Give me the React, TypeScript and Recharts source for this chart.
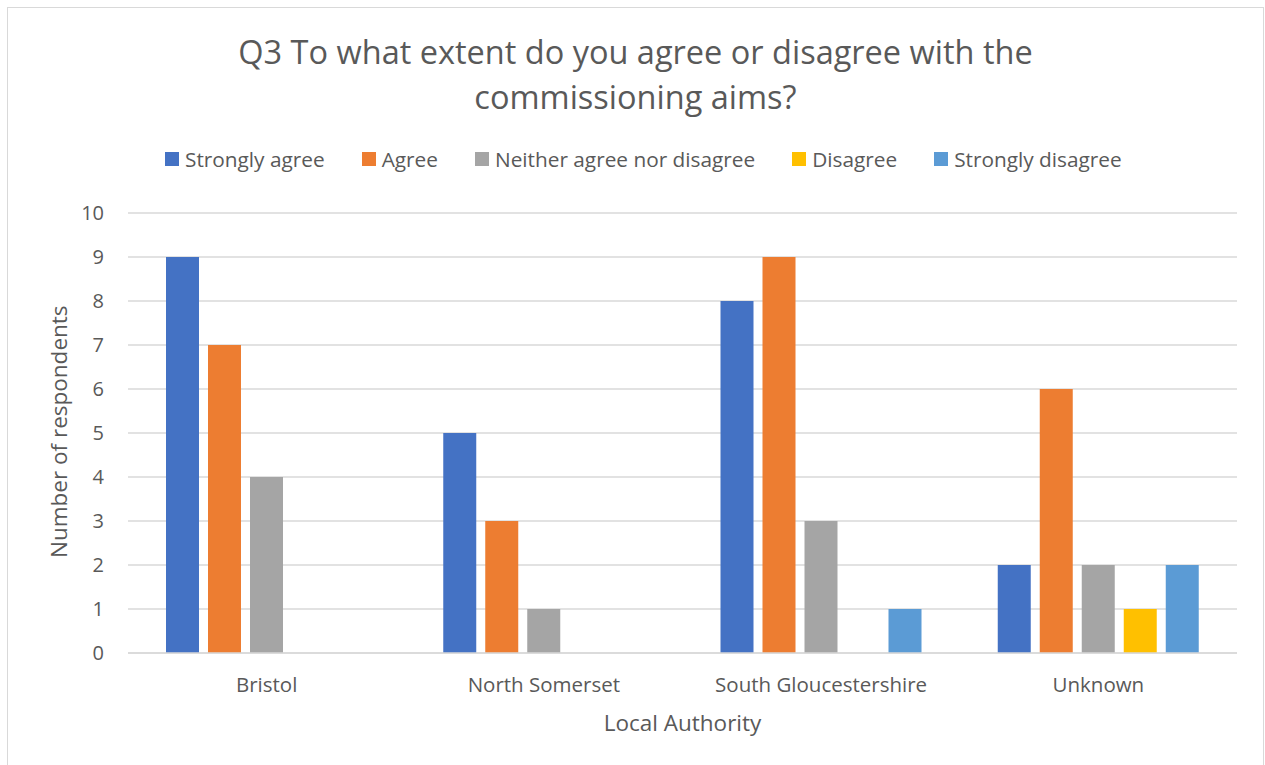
import { BarChart, Bar, XAxis, YAxis, CartesianGrid } from "recharts"

const AUTHORITIES = ["Bristol", "North Somerset", "South Gloucestershire", "Unknown"]
const STRONGLY_AGREE = [9, 5, 8, 2]
const AGREE = [7, 3, 9, 6]
const NEITHER = [4, 1, 3, 2]
const DISAGREE = [0, 0, 0, 1]
const STRONGLY_DISAGREE = [0, 0, 1, 2]
const Y_TICKS = [0, 1, 2, 3, 4, 5, 6, 7, 8, 9, 10]

const SERIES = [
  { key: "sa", name: "Strongly agree", color: "#4472C4" },
  { key: "a", name: "Agree", color: "#ED7D31" },
  { key: "n", name: "Neither agree nor disagree", color: "#A5A5A5" },
  { key: "d", name: "Disagree", color: "#FFC000" },
  { key: "sd", name: "Strongly disagree", color: "#5B9BD5" },
]

const data = AUTHORITIES.map((name, i) => ({
  name,
  sa: STRONGLY_AGREE[i],
  a: AGREE[i],
  n: NEITHER[i],
  d: DISAGREE[i],
  sd: STRONGLY_DISAGREE[i],
}))

const FONT = "'Open Sans', sans-serif"
const TEXT = "#595959"

function LegendRow() {
  return (
    <div
      style={{
        position: "absolute",
        top: 137,
        left: 157,
        display: "flex",
        gap: 37,
        fontSize: 20.8,
        color: TEXT,
        lineHeight: "28px",
      }}
    >
      {SERIES.map((s) => (
        <div key={s.key} style={{ display: "flex", alignItems: "center", gap: 6 }}>
          <span style={{ width: 14, height: 14, background: s.color, display: "inline-block" }} />
          <span>{s.name}</span>
        </div>
      ))}
    </div>
  )
}

export default function App() {
  return (
    <div
      style={{
        position: "absolute",
        left: 7,
        top: 7,
        width: 1255,
        height: 760,
        border: "1px solid #d9d9d9",
        background: "#fff",
        fontFamily: FONT,
      }}
    >
      <div
        style={{
          position: "absolute",
          top: 21,
          left: 0,
          width: 1255,
          textAlign: "center",
          fontSize: 32.5,
          lineHeight: "45px",
          color: TEXT,
        }}
      >
        Q3 To what extent do you agree or disagree with the
        <br />
        commissioning aims?
      </div>
      <LegendRow />
      <BarChart
        width={1255}
        height={760}
        data={data}
        margin={{ top: 205, right: 26, bottom: 35, left: 60 }}
        barGap={9}
        barCategoryGap={38}
      >
        <CartesianGrid vertical={false} stroke="#d9d9d9" strokeWidth={1.5} />
        <XAxis
          dataKey="name"
          height={80}
          tickSize={0}
          tickMargin={24}
          axisLine={{ stroke: "#d9d9d9", strokeWidth: 1.5 }}
          tick={{ fill: TEXT, fontSize: 20.5, fontFamily: FONT }}
          label={{
            value: "Local Authority",
            position: "insideBottom",
            offset: 2,
            fill: TEXT,
            fontSize: 22.5,
            fontFamily: FONT,
          }}
        />
        <YAxis
          width={60}
          domain={[0, 10]}
          ticks={Y_TICKS}
          interval={0}
          tickSize={0}
          tickMargin={24}
          axisLine={false}
          tick={{ fill: TEXT, fontSize: 20, fontFamily: FONT }}
          label={{
            value: "Number of respondents",
            angle: -90,
            position: "insideLeft",
            offset: 0,
            dx: -9,
            dy: 125,
            fill: TEXT,
            fontSize: 22.5,
            fontFamily: FONT,
          }}
        />
        {SERIES.map((s) => (
          <Bar key={s.key} dataKey={s.key} name={s.name} fill={s.color} isAnimationActive={false} />
        ))}
      </BarChart>
    </div>
  )
}
